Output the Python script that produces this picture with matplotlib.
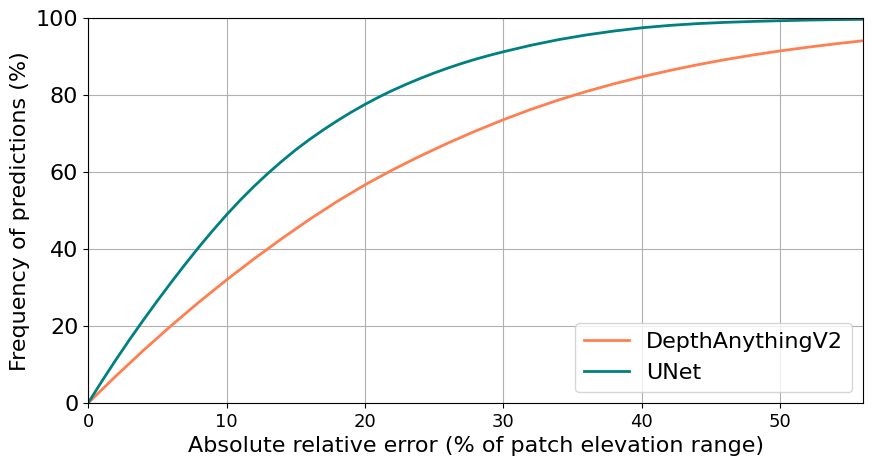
import matplotlib
matplotlib.use("Agg")
import matplotlib.pyplot as plt

x_unet = [0, 1, 2, 3, 4, 5, 6, 7, 8, 9, 10, 11, 12, 13, 14, 15, 16, 17, 18, 19, 20,
          21, 22, 23, 24, 25, 26, 27, 28, 29, 30, 32, 34, 36, 38, 40, 42, 44, 46, 48,
          50, 52, 54, 56]
unet = [0, 5.7, 11.2, 16.5, 21.6, 26.55, 31.35, 36.0, 40.5, 44.8, 48.9, 52.75, 56.35, 59.7,
        62.85, 65.8, 68.5, 71.0, 73.35, 75.55, 77.6, 79.5, 81.25, 82.85, 84.35, 85.75, 87.05,
        88.25, 89.35, 90.35, 91.27, 92.97, 94.43, 95.65, 96.66, 97.5, 98.12, 98.58, 98.91,
        99.15, 99.34, 99.5, 99.62, 99.7]

x_da = [0, 2, 4, 6, 8, 10, 12, 14, 16, 18, 20, 22, 24, 26, 28, 30, 32, 34, 36, 38, 40,
        42, 44, 46, 48, 50, 52, 54, 56]
depth_anything = [0, 7.0, 13.7, 20.1, 26.2, 32.0, 37.5, 42.74, 47.74, 52.4, 56.7, 60.6, 64.2,
                  67.56, 70.7, 73.62, 76.32, 78.76, 80.96, 82.96, 84.76, 86.4, 87.88, 89.22,
                  90.42, 91.5, 92.46, 93.34, 94.14]

fig = plt.figure(figsize=(8.72, 4.66), dpi=100)
ax = fig.add_axes([0.101, 0.135, 0.889, 0.826])
ax.plot(x_da, depth_anything, color="coral", lw=2, label="DepthAnythingV2")
ax.plot(x_unet, unet, color="teal", lw=2, label="UNet")
ax.set_xlim(0, 56)
ax.set_ylim(0, 100)
ax.grid(True)
ax.tick_params(axis="y", labelsize=16)
ax.tick_params(axis="x", labelsize=13)
ax.set_xlabel("Absolute relative error (% of patch elevation range)", fontsize=16)
ax.set_ylabel("Frequency of predictions (%)", fontsize=16)
ax.legend(loc="lower right", fontsize=16)
fig.savefig("out.png", dpi=100)
